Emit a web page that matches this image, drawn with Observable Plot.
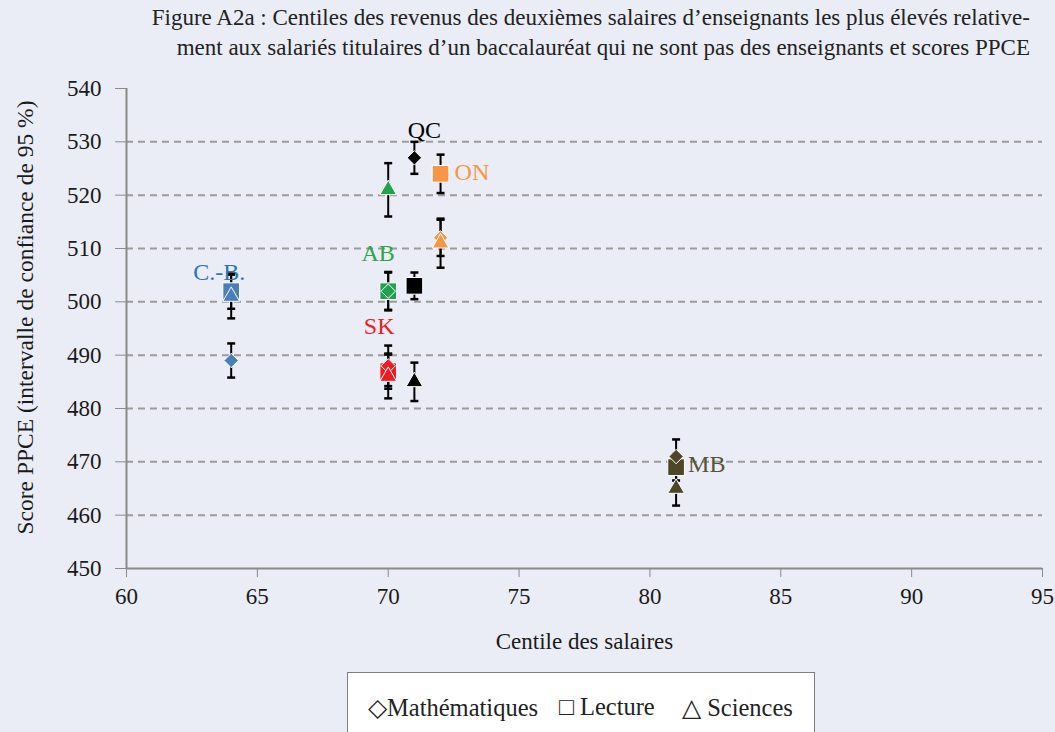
<!DOCTYPE html>
<html>
<head>
<meta charset="utf-8">
<script src="https://cdn.jsdelivr.net/npm/d3@7"></script>
<script src="https://cdn.jsdelivr.net/npm/@observablehq/plot@0.6"></script>
<style>
  html, body { margin: 0; padding: 0; background: #eaedf5; width: 1055px; height: 732px; overflow: hidden; font-family: "Liberation Serif", serif; }
  #title { position: absolute; right: 25px; top: 3px; text-align: right; font-size: 23px; line-height: 30px; color: #222; white-space: nowrap; }
  #chart { position: absolute; left: 0; top: 60px; }
  #legend { position: absolute; left: 347px; top: 672px; width: 468px; height: 70px; background: #fff; border: 1.5px solid #7f7f7f; box-sizing: border-box; font-size: 24.5px; color: #222; font-family: "Liberation Serif", serif; }
  #legend span { position: absolute; top: 20px; white-space: nowrap; }
</style>
</head>
<body>
<div id="title">
  <div>Figure A2a : Centiles des revenus des deuxièmes salaires d’enseignants les plus élevés relative-</div>
  <div>ment aux salariés titulaires d’un baccalauréat qui ne sont pas des enseignants et scores PPCE</div>
</div>
<div id="chart"></div>
<div id="legend">
  <span style="left:20px">◇Mathématiques</span>
  <span style="left:211px">□ Lecture</span>
  <span style="left:334px">△ Sciences</span>
</div>
<script>
// ---- Data ----
const provinces = ["C.-B.", "AB", "SK", "MB", "ON", "QC"];
const centile   = [64, 70, 70, 81, 72, 71];
const math      = [489, 502, 488, 471, 512, 527];
const mathErr   = [3.2, 3.6, 3.8, 3.2, 3.4, 3.0];
const lecture   = [502, 502, 487, 469, 524, 503];
const lectureErr= [3.3, 3.5, 3.3, 2.5, 3.6, 2.5];
const sciences  = [501, 521, 486, 465, 511, 485];
const sciencesErr=[4.1, 5.0, 4.1, 3.2, 4.6, 3.6];
const xTicks = [60, 65, 70, 75, 80, 85, 90, 95];
const yTicks = [450, 460, 470, 480, 490, 500, 510, 520, 530, 540];
const gridValues = [460, 470, 480, 490, 500, 510, 520, 530];
const xTitle = "Centile des salaires";
const yTitle = "Score PPCE (intervalle de confiance de 95 %)";

// ---- Styles ----
const provColors = {"C.-B.": "#4a7ebb", "AB": "#21a24f", "SK": "#ec1c24", "MB": "#4e4629", "ON": "#f79646", "QC": "#000000"};
const labelColors = {"C.-B.": "#2f74b5", "AB": "#2ba64b", "SK": "#ec1c24", "MB": "#5a5336", "ON": "#f79646", "QC": "#000000"};
const FONT = "'Liberation Serif', serif";

// table built from arrays
const series = [
  {name: "Lecture", values: lecture, err: lectureErr, symbol: "square", r: 9.4},
  {name: "Mathématiques", values: math, err: mathErr, symbol: "diamond2", r: 6.5},
  {name: "Sciences", values: sciences, err: sciencesErr, symbol: "triangle", r: 6.2}
];
const rows = [];
for (const s of series) {
  provinces.forEach((p, i) => {
    rows.push({province: p, subject: s.name, x: centile[i], y: s.values[i], lo: s.values[i] - s.err[i], hi: s.values[i] + s.err[i]});
  });
}

const capSymbol = {
  draw(ctx, size) { const w = Math.sqrt(size); ctx.moveTo(-w / 2, 0); ctx.lineTo(w / 2, 0); }
};

// label placement (style), anchored to a data point of the province
const labelSpec = [
  {province: "C.-B.", from: lecture, anchor: "middle", dx: -12, dy: -19},
  {province: "AB",    from: math,    anchor: "middle", dx: -10, dy: -38},
  {province: "SK",    from: math,    anchor: "middle", dx: -9, dy: -40},
  {province: "QC",    from: math,    anchor: "middle", dx: 10, dy: -28},
  {province: "ON",    from: lecture, anchor: "start",  dx: 14, dy: -2},
  {province: "MB",    from: lecture, anchor: "start",  dx: 12, dy: -3}
];

const marks = [
  Plot.ruleY(gridValues, {stroke: "#9c9c9c", strokeWidth: 2, strokeDasharray: "7,5"}),
  Plot.axisX({ticks: xTicks, tickSize: 9, tickPadding: 10, stroke: "#8a8a8a", fill: "#1a1a1a", fontSize: 23, fontFamily: FONT,
              label: xTitle, labelAnchor: "center", labelOffset: 80, labelArrow: "none"}),
  Plot.axisY({ticks: yTicks, tickSize: 11, tickPadding: 14, stroke: "#8a8a8a", fill: "#1a1a1a", fontSize: 23, fontFamily: FONT,
              label: null}),
  Plot.text([yTitle], {frameAnchor: "left", rotate: -90, textAnchor: "middle", dx: -101, dy: -11,
              fontSize: 23.5, fontFamily: FONT, fill: "#1a1a1a"}),
  Plot.ruleX([60], {stroke: "#8a8a8a", strokeWidth: 2}),
  Plot.ruleY([450], {stroke: "#8a8a8a", strokeWidth: 2}),
  // error bars
  Plot.ruleX(rows, {x: "x", y1: "lo", y2: "hi", stroke: "#000", strokeWidth: 2}),
  Plot.dot(rows, {x: "x", y: "lo", symbol: capSymbol, r: 4.5, stroke: "#000", fill: "none", strokeWidth: 2.5}),
  Plot.dot(rows, {x: "x", y: "hi", symbol: capSymbol, r: 4.5, stroke: "#000", fill: "none", strokeWidth: 2.5}),
];
for (const s of series) {
  marks.push(Plot.dot(rows.filter(d => d.subject === s.name), {
    x: "x", y: "y", symbol: s.symbol, r: s.r,
    fill: d => provColors[d.province], stroke: "#ffffff", strokeWidth: 1
  }));
}
for (const l of labelSpec) {
  const i = provinces.indexOf(l.province);
  marks.push(Plot.text([{x: centile[i], y: l.from[i], t: l.province}], {
    x: "x", y: "y", text: "t", textAnchor: l.anchor, dx: l.dx, dy: l.dy,
    fill: labelColors[l.province], fontSize: 24, fontFamily: FONT
  }));
}

const chart = Plot.plot({
  width: 1055, height: 605,
  marginTop: 28, marginBottom: 97, marginLeft: 126, marginRight: 13,
  style: {background: "transparent", fontFamily: FONT, fontSize: "23px", color: "#1a1a1a", overflow: "visible"},
  x: {domain: [60, 95]},
  y: {domain: [450, 540]},
  marks
});
document.getElementById("chart").appendChild(chart);
</script>
</body>
</html>
